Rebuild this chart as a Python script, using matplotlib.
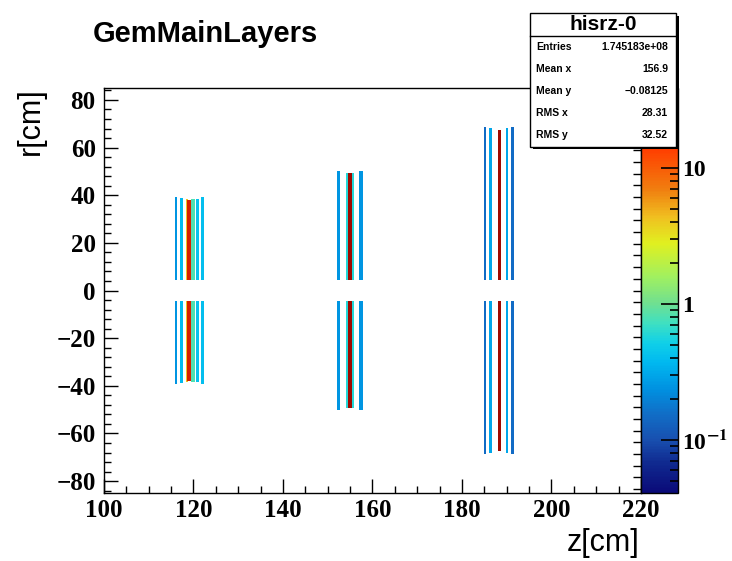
import numpy as np
import matplotlib
matplotlib.use("Agg")
import matplotlib.pyplot as plt
from matplotlib.colors import LinearSegmentedColormap, LogNorm
from matplotlib.cm import ScalarMappable
from matplotlib.ticker import MultipleLocator, LogLocator, NullFormatter
from matplotlib.patches import Rectangle

plt.rcParams["font.family"] = ["Liberation Sans", "DejaVu Sans"]
plt.rcParams["mathtext.fontset"] = "stix"

# layer bins: z centre, z width, content, inner/outer radius (cm)
layer_z = [116.1, 117.3, 118.5, 119.1, 119.9, 120.9, 122.0,
           152.4, 154.3, 155.0, 155.7, 157.4,
           185.2, 186.4, 188.3, 190.1, 191.3]
layer_w = [0.6, 0.7, 0.35, 0.9, 0.8, 0.5, 0.55,
           0.75, 0.35, 0.85, 0.35, 0.75,
           0.5, 0.55, 0.7, 0.55, 0.5]
layer_val = [0.25, 0.38, 4.0, 22.0, 0.8, 0.42, 0.4,
             0.25, 0.6, 32.0, 0.6, 0.25,
             0.15, 0.3, 32.0, 0.3, 0.15]
layer_rin = [4.4] * 17
layer_rout = [39.2, 38.8, 38.2, 38.0, 38.3, 38.6, 39.2,
              50.2, 49.5, 49.3, 49.5, 50.2,
              68.5, 68.0, 67.3, 68.0, 68.5]

stat_labels = ["Entries", "Mean x", "Mean y", "RMS x", "RMS y"]
stat_values = ["1.745183e+08", "156.9", "\u22120.08125", "28.31", "32.52"]

z_min, z_max = 0.0407, 38.8

pal_pos = [0.0, 0.074, 0.131, 0.198, 0.254, 0.321, 0.370, 0.420, 0.469,
           0.533, 0.617, 0.681, 0.748, 0.847, 0.93, 1.0]
pal_col = ["#0a0a78", "#102a90", "#1850b0", "#1070c8", "#0090e0", "#00b8f0",
           "#10d0e8", "#40e0c0", "#70e090", "#a0f060", "#e0f020", "#f0c020",
           "#f08010", "#ff4000", "#d01800", "#800000"]
cmap = LinearSegmentedColormap.from_list("rootpal", list(zip(pal_pos, pal_col)))
norm = LogNorm(vmin=z_min, vmax=z_max)

W, H = 732, 561
fx = lambda px: px / W
fy = lambda py: 1 - py / H

fig = plt.figure(figsize=(W / 100, H / 100), dpi=100)
fig.patch.set_facecolor("white")
ax = fig.add_axes([fx(104), fy(493), fx(641) - fx(104), fy(88) - fy(493)])
cax = fig.add_axes([fx(641), fy(493), fx(678) - fx(641), fy(88) - fy(493)])

for z, w, v, r0, r1 in zip(layer_z, layer_w, layer_val, layer_rin, layer_rout):
    c = cmap(norm(v))
    ax.bar(z, r1 - r0, width=w, bottom=r0, color=c, linewidth=0)
    ax.bar(z, r1 - r0, width=w, bottom=-r1, color=c, linewidth=0)

ax.set_xlim(100, 220)
ax.set_ylim(-85, 85)
ax.xaxis.set_major_locator(MultipleLocator(20))
ax.xaxis.set_minor_locator(MultipleLocator(5))
ax.yaxis.set_major_locator(MultipleLocator(20))
ax.yaxis.set_minor_locator(MultipleLocator(4))
ax.tick_params(which="both", direction="in", top=False, right=False, width=1)
ax.tick_params(which="major", length=10)
ax.tick_params(which="minor", length=5)
ax.tick_params(axis="x", pad=4)
ax.tick_params(axis="y", pad=6)
for lab in ax.get_xticklabels() + ax.get_yticklabels():
    lab.set_fontfamily("Liberation Serif")
    lab.set_fontweight("bold")
    lab.set_fontsize(18)
for s in ax.spines.values():
    s.set_linewidth(1)

ax2 = ax.twinx()
ax2.set_ylim(-85, 85)
ax2.yaxis.set_major_locator(MultipleLocator(4.9))
ax2.tick_params(which="both", direction="in", length=6, labelright=False, width=1)
for s in ax2.spines.values():
    s.set_visible(False)

fig.text(fx(639), fy(543), "z[cm]", ha="right", va="center", fontsize=22)
fig.text(fx(31), fy(87), "r[cm]", ha="center", va="top", rotation=90, fontsize=22)
fig.text(fx(93), fy(34), "GemMainLayers", ha="left", va="center", fontsize=21, fontweight="bold")

cb = fig.colorbar(ScalarMappable(norm=norm, cmap=cmap), cax=cax)
cb.outline.set_linewidth(1)
cb.set_ticks([0.1, 1, 10])
cb.set_ticklabels(["10$^{\\mathbf{-1}}$", "1", "10"])
cax.yaxis.set_minor_locator(LogLocator(base=10, subs=np.arange(2, 10)))
cax.yaxis.set_minor_formatter(NullFormatter())
cax.tick_params(which="both", direction="in", right=True, left=False, width=1.2, pad=3)
cax.tick_params(which="major", length=12)
cax.tick_params(which="minor", length=6)
for lab in cax.get_yticklabels():
    lab.set_fontfamily("Liberation Serif")
    lab.set_fontweight("bold")
    lab.set_fontsize(17)

# stats box with shadow
fig.patches.append(Rectangle((fx(533), fy(149)), fx(679) - fx(533), fy(16) - fy(149),
                             transform=fig.transFigure, facecolor="black", edgecolor="none", zorder=5))
fig.patches.append(Rectangle((fx(530), fy(147)), fx(676) - fx(530), fy(13) - fy(147),
                             transform=fig.transFigure, facecolor="white", edgecolor="black",
                             linewidth=1, zorder=6))
fig.lines.append(plt.Line2D([fx(530), fx(676)], [fy(36), fy(36)], transform=fig.transFigure,
                            color="black", linewidth=1, zorder=7))
fig.text(fx(603), fy(24), "hisrz-0", ha="center", va="center", fontsize=15,
         fontweight="bold", zorder=8)
for i, (lab, val) in enumerate(zip(stat_labels, stat_values)):
    yy = fy(47 + 22 * i)
    fig.text(fx(536), yy, lab, ha="left", va="center", fontsize=7.5, fontweight="bold", zorder=8)
    fig.text(fx(668), yy, val, ha="right", va="center", fontsize=7.5, fontweight="bold", zorder=8)

fig.savefig("out.png", dpi=100, facecolor="white")
